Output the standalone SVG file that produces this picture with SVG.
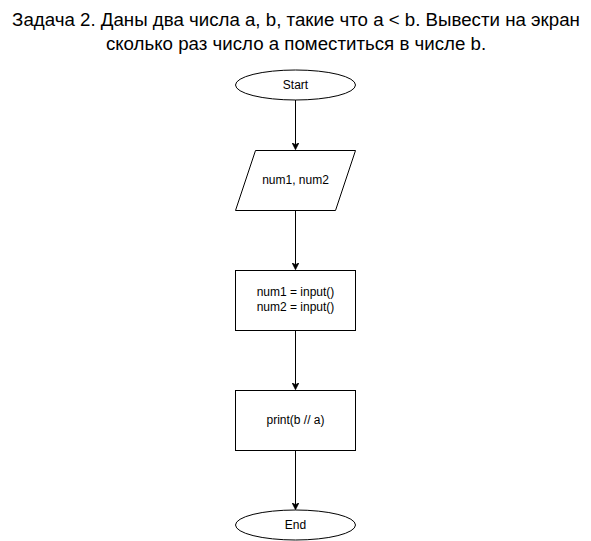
<svg xmlns="http://www.w3.org/2000/svg" width="591" height="541" viewBox="0 0 591 541">
  <style>
    .shape { fill: #ffffff; stroke: #000000; stroke-width: 1; }
    .label { font-family: "Liberation Sans", Arial, sans-serif; font-size: 12px; fill: #000000; text-anchor: middle; }
    .title { font-family: "Liberation Sans", Arial, sans-serif; font-size: 18.7px; fill: #000000; text-anchor: middle; }
    .edge { fill: none; stroke: #000000; stroke-width: 1; marker-end: url(#arrow); }
  </style>
  <defs>
    <marker id="arrow" viewBox="0 0 10 10" refX="9" refY="5" markerWidth="7" markerHeight="7" markerUnits="userSpaceOnUse" orient="auto">
      <path d="M0,0 L10,5 L0,10 L3,5 Z" fill="#000000" stroke="#000000" stroke-width="1"/>
    </marker>
  </defs>

  <rect width="591" height="541" fill="#ffffff"/>

  <text class="title" x="296" y="26">Задача 2. Даны два числа a, b, такие что a &lt; b. Вывести на экран</text>
  <text class="title" x="296" y="50">сколько раз число a поместиться в числе b.</text>

  <g id="edges">
    <path class="edge" d="M295.5,100 L295.5,149"/>
    <path class="edge" d="M295.5,210 L295.5,269"/>
    <path class="edge" d="M295.5,330 L295.5,389"/>
    <path class="edge" d="M295.5,450 L295.5,509"/>
  </g>

  <g id="start">
    <ellipse class="shape" cx="295.5" cy="85" rx="60" ry="15"/>
    <text class="label" x="295.5" y="89">Start</text>
  </g>

  <g id="input">
    <path class="shape" d="M255.5,150.5 L355.5,150.5 L335.5,210.5 L235.5,210.5 Z"/>
    <text class="label" x="295.5" y="184">num1, num2</text>
  </g>

  <g id="read">
    <rect class="shape" x="235.5" y="270.5" width="120" height="60"/>
    <text class="label" x="295.5" y="296">num1 = input()</text>
    <text class="label" x="295.5" y="311">num2 = input()</text>
  </g>

  <g id="print">
    <rect class="shape" x="235.5" y="390.5" width="120" height="60"/>
    <text class="label" x="295.5" y="424">print(b // a)</text>
  </g>

  <g id="end">
    <ellipse class="shape" cx="295.5" cy="525" rx="60" ry="15"/>
    <text class="label" x="295.5" y="529">End</text>
  </g>
</svg>
